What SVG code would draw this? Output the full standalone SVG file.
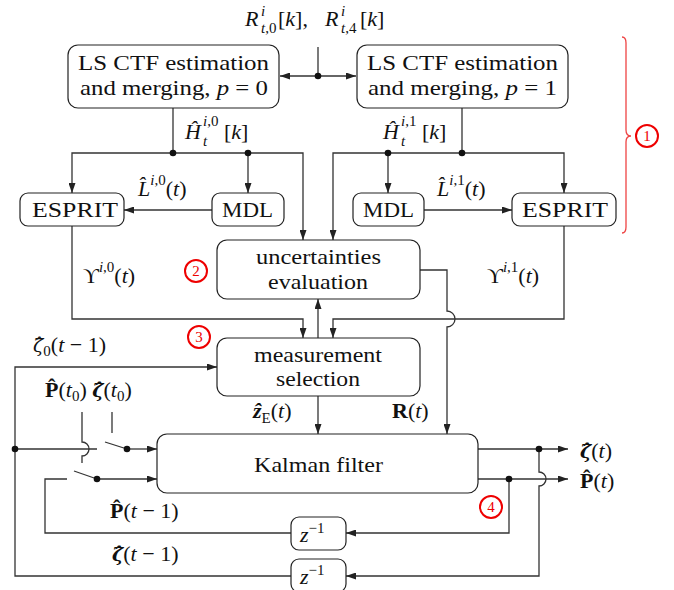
<svg xmlns="http://www.w3.org/2000/svg" width="674" height="590" viewBox="0 0 674 590">
<defs>
<marker id="ah" viewBox="0 0 10 7" refX="10" refY="3.5" markerWidth="10" markerHeight="7" markerUnits="userSpaceOnUse" orient="auto"><path d="M0,0 L10,3.5 L0,7 z" fill="#222"/></marker>
</defs>
<style>
.box{fill:#fff;stroke:#222;stroke-width:1.2}
.c{fill:none;stroke:#333;stroke-width:1.3}
.a{marker-end:url(#ah)}
.d{fill:#111}
text{font-family:"Liberation Serif","DejaVu Serif",serif;fill:#111}
.t{font-size:22px}
.s{font-size:15px}
.i{font-style:italic}
.b{font-weight:bold}
.z{font-family:"DejaVu Serif",serif;font-size:19px;font-style:italic}
.red circle{fill:none;stroke:#e00;stroke-width:2}
.red text{fill:#e00;font-size:15px;text-anchor:middle}
.brace{fill:none;stroke:#e44;stroke-width:1.3}
</style>
<rect width="674" height="590" fill="#fff"/>

<g id="connectors">
<path class="c" d="M318,47 V76"/>
<path class="c a" d="M318,76 H280"/>
<path class="c a" d="M318,76 H356"/>
<path class="c" d="M173,108 V153"/>
<path class="c a" d="M173,153 H72 V193"/>
<path class="c a" d="M173,153 H303 V240"/>
<path class="c a" d="M248,153 V193"/>
<path class="c a" d="M212,210 H124"/>
<path class="c a" d="M72,226 V319 H303 V338"/>
<path class="c" d="M462,108 V153"/>
<path class="c a" d="M462,153 H564 V193"/>
<path class="c a" d="M462,153 H333 V240"/>
<path class="c a" d="M388,153 V193"/>
<path class="c a" d="M424,210 H512"/>
<path class="c a" d="M564,226 V319 H333 V338"/>
<path class="c a" d="M318,338 V299"/>
<path class="c a" d="M420,270 H447 V311 A8,8 0 0 1 447,327 V434"/>
<path class="c a" d="M318,396 V434"/>
<path class="c a" d="M291,576 H15 V367 H217"/>
<path class="c" d="M15,449 H97"/>
<path class="c" d="M105,442 L127,449"/>
<path class="c a" d="M127,449 H157"/>
<path class="c" d="M82,412 V442 A7,7 0 0 1 82,456 V463"/>
<path class="c" d="M112,412 V433"/>
<path class="c" d="M291,533 H45 V479 H67"/>
<path class="c" d="M74,471 L97,479"/>
<path class="c a" d="M97,479 H157"/>
<path class="c a" d="M478,449 H568"/>
<path class="c a" d="M478,479 H568"/>
<path class="c a" d="M539,449 V472 A7,7 0 0 1 539,486 V576 H346"/>
<path class="c a" d="M509,479 V533 H346"/>
<circle class="d" cx="318" cy="76" r="3.3"/>
<circle class="d" cx="173" cy="153" r="3.3"/>
<circle class="d" cx="248" cy="153" r="3.3"/>
<circle class="d" cx="462" cy="153" r="3.3"/>
<circle class="d" cx="388" cy="153" r="3.3"/>
<circle class="d" cx="15" cy="449" r="3.3"/>
<circle class="d" cx="127" cy="449" r="3.3"/>
<circle class="d" cx="97" cy="479" r="3.3"/>
<circle class="d" cx="539" cy="449" r="3.3"/>
<circle class="d" cx="509" cy="479" r="3.3"/>
</g>

<g id="ls0">
<rect class="box" x="68" y="45" width="211" height="63" rx="10"/>
<text class="t" x="78" y="70" textLength="191" lengthAdjust="spacingAndGlyphs">LS CTF estimation</text>
<text class="t" x="80" y="95" textLength="188" lengthAdjust="spacingAndGlyphs">and merging, <tspan class="i">p</tspan> = 0</text>
</g>
<g id="ls1">
<rect class="box" x="357" y="45" width="211" height="63" rx="10"/>
<text class="t" x="367" y="70" textLength="191" lengthAdjust="spacingAndGlyphs">LS CTF estimation</text>
<text class="t" x="368" y="95" textLength="189" lengthAdjust="spacingAndGlyphs">and merging, <tspan class="i">p</tspan> = 1</text>
</g>
<g id="esprit0">
<rect class="box" x="20" y="193" width="104" height="33" rx="8"/>
<text class="t" x="32" y="217" textLength="86" lengthAdjust="spacingAndGlyphs">ESPRIT</text>
</g>
<g id="mdl0">
<rect class="box" x="212" y="193" width="72" height="33" rx="8"/>
<text class="t" x="222" y="217" textLength="51" lengthAdjust="spacingAndGlyphs">MDL</text>
</g>
<g id="mdl1">
<rect class="box" x="353" y="193" width="71" height="33" rx="8"/>
<text class="t" x="363" y="217" textLength="51" lengthAdjust="spacingAndGlyphs">MDL</text>
</g>
<g id="esprit1">
<rect class="box" x="512" y="193" width="104" height="33" rx="8"/>
<text class="t" x="522" y="217" textLength="86" lengthAdjust="spacingAndGlyphs">ESPRIT</text>
</g>
<g id="uncert">
<rect class="box" x="217" y="240" width="203" height="59" rx="10"/>
<text class="t" x="256" y="264" textLength="125" lengthAdjust="spacingAndGlyphs">uncertainties</text>
<text class="t" x="268" y="289" textLength="100" lengthAdjust="spacingAndGlyphs">evaluation</text>
</g>
<g id="meas">
<rect class="box" x="217" y="338" width="203" height="58" rx="10"/>
<text class="t" x="254" y="362" textLength="128" lengthAdjust="spacingAndGlyphs">measurement</text>
<text class="t" x="276" y="386" textLength="84" lengthAdjust="spacingAndGlyphs">selection</text>
</g>
<g id="kalman">
<rect class="box" x="157" y="434" width="321" height="59" rx="10"/>
<text class="t" x="254" y="472" textLength="129" lengthAdjust="spacingAndGlyphs">Kalman filter</text>
</g>
<g id="z1">
<rect class="box" x="291" y="517" width="55" height="33" rx="8"/>
<text class="t i" x="300" y="542">z<tspan class="s" font-style="normal" dy="-9">−1</tspan></text>
</g>
<g id="z2">
<rect class="box" x="291" y="559" width="55" height="33" rx="8"/>
<text class="t i" x="300" y="584">z<tspan class="s" font-style="normal" dy="-9">−1</tspan></text>
</g>

<g id="labels">
<text class="t i" x="245" y="26">R</text>
<text class="s i" x="261" y="16">i</text>
<text class="s" x="261" y="33"><tspan class="i">t</tspan>,0</text>
<text class="t" x="278" y="26">[<tspan class="i">k</tspan>],</text>
<text class="t i" x="325" y="26">R</text>
<text class="s i" x="341" y="16">i</text>
<text class="s" x="341" y="33"><tspan class="i">t</tspan>,4</text>
<text class="t" x="360" y="26">[<tspan class="i">k</tspan>]</text>

<text class="t i" x="185" y="139">H&#x302;</text>
<text class="s" x="203" y="126"><tspan class="i">i</tspan>,0</text>
<text class="s i" x="203" y="146">t</text>
<text class="t" x="224" y="139">[<tspan class="i">k</tspan>]</text>

<text class="t i" x="383" y="139">H&#x302;</text>
<text class="s" x="401" y="126"><tspan class="i">i</tspan>,1</text>
<text class="s i" x="401" y="146">t</text>
<text class="t" x="422" y="139">[<tspan class="i">k</tspan>]</text>

<text class="t" x="138" y="196"><tspan class="i">L&#x302;</tspan><tspan class="s" dy="-11"><tspan class="i">i</tspan>,0</tspan><tspan dy="11">(<tspan class="i">t</tspan>)</tspan></text>
<text class="t" x="437" y="196"><tspan class="i">L&#x302;</tspan><tspan class="s" dy="-11"><tspan class="i">i</tspan>,1</tspan><tspan dy="11">(<tspan class="i">t</tspan>)</tspan></text>

<text class="t" x="83" y="283">ϒ<tspan class="s" dy="-11"><tspan class="i">i</tspan>,0</tspan><tspan dy="11">(<tspan class="i">t</tspan>)</tspan></text>
<text class="t" x="487" y="283">ϒ<tspan class="s" dy="-11"><tspan class="i">i</tspan>,1</tspan><tspan dy="11">(<tspan class="i">t</tspan>)</tspan></text>

<text class="t" x="33" y="352"><tspan class="z">ζ&#x302;</tspan><tspan class="s" dy="4">0</tspan><tspan dy="-4">(<tspan class="i">t</tspan> − 1)</tspan></text>

<text class="t" x="45" y="397"><tspan class="b">P&#x302;</tspan>(<tspan class="i">t</tspan><tspan class="s" dy="4">0</tspan><tspan dy="-4">) </tspan><tspan class="z b">ζ&#x302;</tspan>(<tspan class="i">t</tspan><tspan class="s" dy="4">0</tspan><tspan dy="-4">)</tspan></text>

<text class="t" x="253" y="418"><tspan class="b i">z&#x302;</tspan><tspan class="s" dy="5">E</tspan><tspan dy="-5">(<tspan class="i">t</tspan>)</tspan></text>

<text class="t" x="392" y="418"><tspan class="b">R</tspan>(<tspan class="i">t</tspan>)</text>

<text class="t" x="580" y="458"><tspan class="z b">ζ&#x302;</tspan>(<tspan class="i">t</tspan>)</text>
<text class="t" x="580" y="488"><tspan class="b">P&#x302;</tspan>(<tspan class="i">t</tspan>)</text>

<text class="t" x="110" y="518"><tspan class="b">P&#x302;</tspan>(<tspan class="i">t</tspan> − 1)</text>
<text class="t" x="112" y="561"><tspan class="z b">ζ&#x302;</tspan>(<tspan class="i">t</tspan> − 1)</text>
</g>

<g id="annotations" class="red">
<path class="brace" d="M622,37 Q626,37 626,43 V130 Q626,136 631,136 Q626,136 626,142 V227 Q626,233 622,233"/>
<circle cx="647" cy="136" r="11"/><text x="647" y="141">1</text>
<circle cx="196" cy="271" r="11"/><text x="196" y="276">2</text>
<circle cx="199" cy="337" r="11"/><text x="199" y="342">3</text>
<circle cx="491" cy="507" r="11"/><text x="491" y="512">4</text>
</g>
</svg>
